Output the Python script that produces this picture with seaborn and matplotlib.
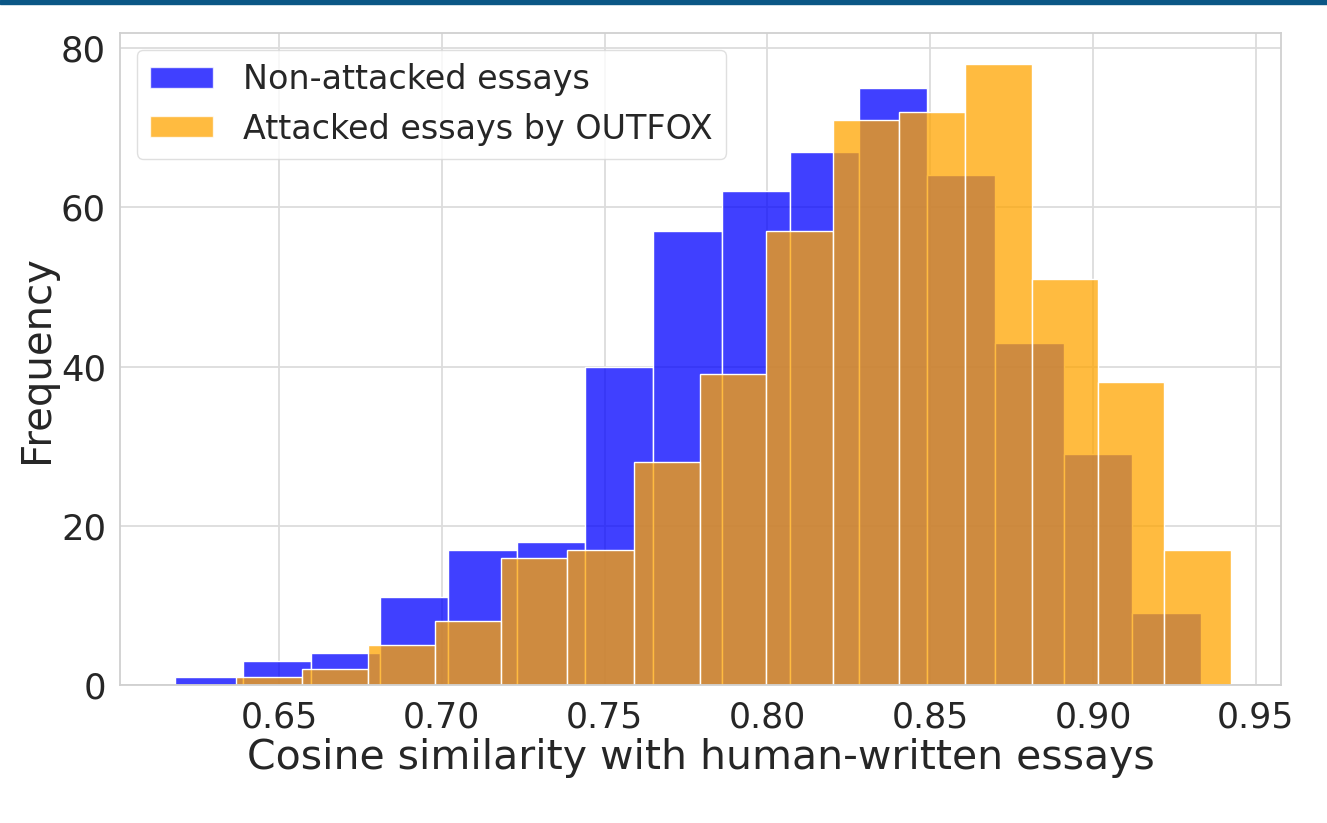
import numpy as np
import pandas as pd
import matplotlib
matplotlib.use("Agg")
import matplotlib.pyplot as plt
import seaborn as sns
from matplotlib.patches import Rectangle

# Histogram bin ranges and counts (15 equal-width bins per series)
non_attacked_range = (0.618, 0.933)
non_attacked_counts = [1, 3, 4, 11, 17, 18, 40, 57, 62, 67, 75, 64, 43, 29, 9]

attacked_range = (0.6367, 0.9423)
attacked_counts = [1, 2, 5, 8, 16, 17, 28, 39, 57, 71, 72, 78, 51, 38, 17]

labels = ["Non-attacked essays", "Attacked essays by OUTFOX"]
colors = ["blue", "orange"]
x_ticks = [0.65, 0.70, 0.75, 0.80, 0.85, 0.90, 0.95]
y_ticks = [0, 20, 40, 60, 80]


def binned_frame(rng, counts):
    edges = np.linspace(rng[0], rng[1], len(counts) + 1)
    centers = (edges[:-1] + edges[1:]) / 2
    return pd.DataFrame({"value": centers, "count": counts})


sns.set_theme(style="whitegrid")
plt.rcParams["font.family"] = ["DejaVu Sans"]

fig = plt.figure(figsize=(13.27, 8.23), dpi=100)
ax = fig.add_axes([0.0904, 0.1677, 0.8749, 0.7923])

for rng, counts, label, color in zip(
    [non_attacked_range, attacked_range],
    [non_attacked_counts, attacked_counts],
    labels, colors,
):
    df = binned_frame(rng, counts)
    sns.histplot(
        data=df, x="value", weights="count",
        bins=len(counts), binrange=rng, ax=ax,
        color=color, alpha=0.75, edgecolor="white", linewidth=1.0,
        label=label,
    )

ax.set_xticks(x_ticks)
ax.set_xticklabels([f"{t:.2f}" for t in x_ticks])
ax.set_yticks(y_ticks)
ax.set_xlim(0.6012, 0.9577)
ax.set_ylim(0, 81.9)
ax.tick_params(axis="x", labelsize=25, colors="#262626", pad=5)
ax.tick_params(axis="y", labelsize=25.5, colors="#262626", pad=4)
ax.set_xlabel("Cosine similarity with human-written essays", fontsize=29.5,
              color="#262626", labelpad=3)
ax.set_ylabel("Frequency", fontsize=29, color="#262626", labelpad=3)
ax.grid(True, color="#dcdcdc", linewidth=1.3)
for side in ax.spines.values():
    side.set_color("#d0d0d0")
    side.set_linewidth(1.3)

leg = ax.legend(loc="upper left", fontsize=24, frameon=True,
                borderpad=0.4, handlelength=1.9, handleheight=0.6,
                handletextpad=0.9, labelspacing=0.5, borderaxespad=0.5)
leg.get_frame().set_edgecolor("#d8d8d8")
for h in leg.legend_handles:
    h.set_alpha(0.75)

# thin header band across the top of the figure
fig.patches.append(Rectangle((0, 1 - 3.5 / 823), 1, 3.5 / 823,
                             transform=fig.transFigure, color="#0b5786",
                             zorder=10))

fig.savefig("out.png", dpi=100)
